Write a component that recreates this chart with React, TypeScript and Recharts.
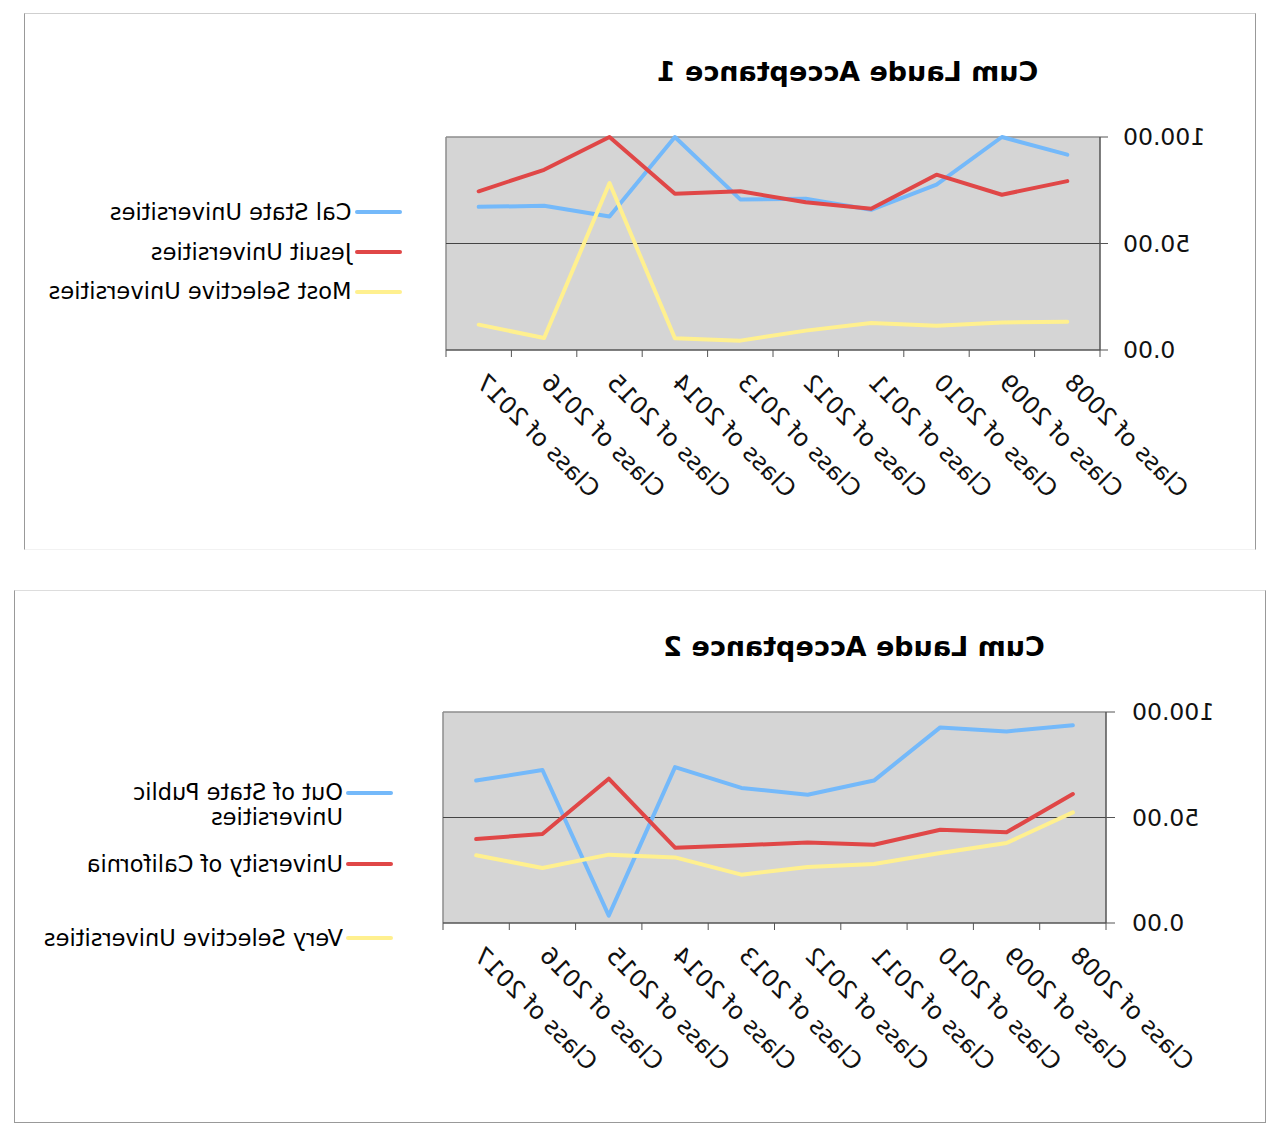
import React from 'react';
import { LineChart, Line, XAxis, YAxis, CartesianGrid } from 'recharts';

// ---------- data ----------
const categories = [
  'Class of 2008', 'Class of 2009', 'Class of 2010', 'Class of 2011', 'Class of 2012',
  'Class of 2013', 'Class of 2014', 'Class of 2015', 'Class of 2016', 'Class of 2017',
];
const yTicks = [0, 50, 100];

// Chart 1
const title1 = 'Cum Laude Acceptance 1';
const calState = [91.7, 100, 77.6, 65.8, 71, 70.7, 100, 62.7, 67.7, 67.2];
const jesuit = [79.3, 72.9, 82.3, 66.3, 69.4, 74.5, 73.4, 100, 84.6, 74.5];
const mostSelective = [13.3, 12.9, 11.4, 12.7, 9.1, 4.4, 5.5, 78.4, 5.6, 11.9];
const names1 = ['Cal State Universities', 'Jesuit Universities', 'Most Selective Universities'];

// Chart 2
const title2 = 'Cum Laude Acceptance 2';
const outOfState = [93.7, 90.8, 92.7, 67.5, 60.8, 64, 73.9, 3.5, 72.5, 67.5];
const univCalifornia = [61.1, 43, 44.2, 37.1, 38.2, 36.8, 35.7, 68.4, 42.2, 39.8];
const verySelective = [52.4, 37.9, 33.2, 28, 26.5, 22.9, 31.1, 32.4, 26.1, 32.1];
const names2 = ['Out of State Public Universities', 'University of California', 'Very Selective Universities'];

const data1 = categories.map((c, i) => ({ cat: c, s0: calState[i], s1: jesuit[i], s2: mostSelective[i] }));
const data2 = categories.map((c, i) => ({ cat: c, s0: outOfState[i], s1: univCalifornia[i], s2: verySelective[i] }));

// ---------- styles ----------
const BLUE = '#74B9FA';
const RED = '#E04747';
const YELLOW = '#FFF08F';
const COLORS = [BLUE, RED, YELLOW];
const FONT = '"DejaVu Sans", Verdana, sans-serif';
const AXIS = '#555555';

function XTick(props: any) {
  const { x, y, payload, index, half, count } = props;
  const ax = x + 4;
  const ay = y + 34;
  return (
    <g>
      <line x1={x - half} y1={y} x2={x - half} y2={y + 7} stroke={AXIS} strokeWidth={1} />
      {index === count - 1 && (
        <line x1={x + half} y1={y} x2={x + half} y2={y + 7} stroke={AXIS} strokeWidth={1} />
      )}
      <text
        x={ax}
        y={ay}
        transform={`rotate(-45 ${ax} ${ay})`}
        textAnchor="end"
        fontSize={24}
        fontFamily={FONT}
        fill="#111"
      >
        {payload.value}
      </text>
    </g>
  );
}

type PanelProps = {
  data: any[];
  left: number;
  top: number;
  width: number;
  height: number;
  margin: { top: number; right: number; bottom: number; left: number };
  yWidth: number;
  yTickSize: number;
  yTickMargin: number;
  half: number;
};

function Panel({ data, left, top, width, height, margin, yWidth, yTickSize, yTickMargin, half }: PanelProps) {
  const plotW = width - margin.left - margin.right - yWidth;
  const plotH = height - margin.top - margin.bottom - 200;
  const plotL = margin.left + yWidth;
  const plotT = margin.top;
  return (
    <div style={{ position: 'absolute', left, top, width, height }}>
      <LineChart width={width} height={height} data={data} margin={margin}>
        <CartesianGrid
          fill="#D5D5D5"
          fillOpacity={1}
          stroke="#8C8C8C"
          strokeWidth={1.5}
          horizontalCoordinatesGenerator={(args: any) => {
            const o = args && args.offset;
            return [o ? o.top : plotT];
          }}
          verticalCoordinatesGenerator={(args: any) => {
            const o = args && args.offset;
            return [o ? o.left + o.width : plotL + plotW];
          }}
        />
        <CartesianGrid
          stroke="#444444"
          strokeWidth={1}
          vertical={false}
          horizontalCoordinatesGenerator={(args: any) => {
            const o = args && args.offset;
            return [o ? o.top + o.height / 2 : plotT + plotH / 2];
          }}
        />
        <XAxis
          dataKey="cat"
          type="category"
          interval={0}
          height={200}
          padding={{ left: half, right: half }}
          tickSize={0}
          tickMargin={0}
          tickLine={false}
          axisLine={{ stroke: AXIS, strokeWidth: 1.5 }}
          tick={<XTick half={half} count={data.length} />}
        />
        <YAxis
          domain={[0, 100]}
          ticks={yTicks}
          width={yWidth}
          interval={0}
          tickSize={yTickSize}
          tickMargin={yTickMargin}
          tickFormatter={(v: number) => v.toFixed(2)}
          axisLine={{ stroke: AXIS, strokeWidth: 1.5 }}
          tickLine={{ stroke: AXIS, strokeWidth: 1 }}
          tick={{ fontSize: 23.5, fontFamily: FONT, fill: '#111' }}
        />
        {['s0', 's1', 's2'].map((k, i) => (
          <Line
            key={k}
            dataKey={k}
            type="linear"
            stroke={COLORS[i]}
            strokeWidth={4}
            strokeLinejoin="round"
            strokeLinecap="round"
            dot={false}
            activeDot={false}
            isAnimationActive={false}
          />
        ))}
      </LineChart>
    </div>
  );
}

function LegendRow({ x, y, color, lines, textX }: { x: [number, number]; y: number; color: string; lines: string[]; textX: number }) {
  return (
    <>
      <div
        style={{
          position: 'absolute',
          left: x[0],
          top: y - 2,
          width: x[1] - x[0],
          height: 4,
          borderRadius: 2,
          background: color,
        }}
      />
      <div
        style={{
          position: 'absolute',
          left: textX,
          top: y - 12.5,
          fontFamily: FONT,
          fontSize: 22.5,
          lineHeight: '25px',
          color: '#000',
          whiteSpace: 'nowrap',
        }}
      >
        {lines.map((l, i) => (
          <div key={i}>{l}</div>
        ))}
      </div>
    </>
  );
}

function Title({ cx, top, text }: { cx: number; top: number; text: string }) {
  return (
    <div
      style={{
        position: 'absolute',
        left: cx - 300,
        top,
        width: 600,
        textAlign: 'center',
        fontFamily: FONT,
        fontWeight: 'bold',
        fontSize: 27,
        lineHeight: '27px',
        color: '#000',
        whiteSpace: 'nowrap',
      }}
    >
      {text}
    </div>
  );
}

export default function App() {
  return (
    <div
      style={{
        position: 'absolute',
        left: 0,
        top: 0,
        width: 1271,
        height: 1133,
        background: '#fff',
        transform: 'scaleX(-1)',
        overflow: 'hidden',
      }}
    >
      {/* Chart 1 frame */}
      <div
        style={{
          position: 'absolute',
          left: 15,
          top: 13,
          width: 1232,
          height: 537,
          boxSizing: 'border-box',
          borderTop: '1.5px solid #cfcfcf',
          borderLeft: '1.5px solid #999',
          borderRight: '1.5px solid #999',
          borderBottom: '1.5px solid #f2f2f2',
        }}
      />
      <Panel
        data={data1}
        left={15}
        top={13}
        width={1232}
        height={537}
        margin={{ top: 124, right: 422, bottom: 0, left: 0 }}
        yWidth={156}
        yTickSize={8}
        yTickMargin={15}
        half={32.7}
      />
      <Title cx={423.5} top={58} text={title1} />
      <LegendRow x={[869, 916]} y={212.3} color={BLUE} lines={[names1[0]]} textX={919.5} />
      <LegendRow x={[869, 916]} y={252.3} color={RED} lines={[names1[1]]} textX={919.5} />
      <LegendRow x={[869, 916]} y={291.7} color={YELLOW} lines={[names1[2]]} textX={919.5} />

      {/* Chart 2 frame */}
      <div
        style={{
          position: 'absolute',
          left: 5,
          top: 590,
          width: 1252,
          height: 533,
          boxSizing: 'border-box',
          borderTop: '1.5px solid #dddddd',
          borderLeft: '1.5px solid #999',
          borderRight: '1.5px solid #999',
          borderBottom: '1.5px solid #999',
        }}
      />
      <Panel
        data={data2}
        left={5}
        top={590}
        width={1252}
        height={533}
        margin={{ top: 122, right: 429, bottom: 0, left: 0 }}
        yWidth={160}
        yTickSize={9}
        yTickMargin={17}
        half={33.15}
      />
      <Title cx={417} top={633} text={title2} />
      <LegendRow x={[878, 925]} y={792.7} color={BLUE} lines={['Out of State Public', 'Universities']} textX={928} />
      <LegendRow x={[878, 925]} y={864.3} color={RED} lines={[names2[1]]} textX={928} />
      <LegendRow x={[878, 925]} y={938.3} color={YELLOW} lines={[names2[2]]} textX={928} />
    </div>
  );
}
